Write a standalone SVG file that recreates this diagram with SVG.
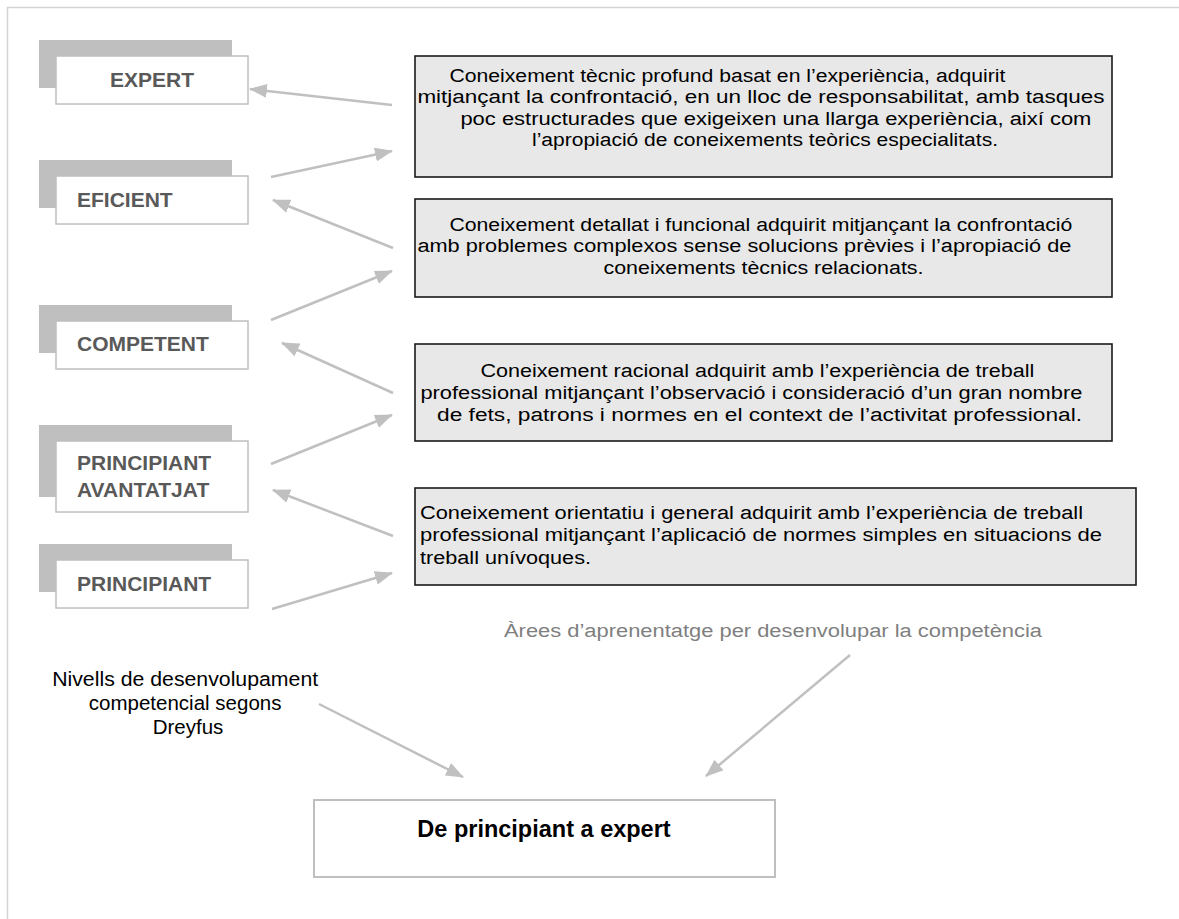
<svg xmlns="http://www.w3.org/2000/svg" width="1179" height="919" viewBox="0 0 1179 919">
  <style>
    .frame { fill: none; stroke: #d4d4d4; stroke-width: 1.5; }
    .shadow { fill: #bfbfbf; }
    .lvl { fill: #ffffff; stroke: #bfbfbf; stroke-width: 1.5; }
    .lvl-text { font-family: "Liberation Sans", Arial, sans-serif; font-weight: bold; font-size: 21px; fill: #595959; }
    .desc { fill: #e8e8e8; stroke: #1a1a1a; stroke-width: 1.6; }
    .desc-text { font-family: "Liberation Sans", Arial, sans-serif; font-size: 18.8px; fill: #000000; }
    .note { font-family: "Liberation Sans", Arial, sans-serif; font-size: 20.5px; fill: #000000; }
    .note-grey { font-family: "Liberation Sans", Arial, sans-serif; font-size: 18.8px; fill: #7f7f7f; }
    .goal { fill: #ffffff; stroke: #bfbfbf; stroke-width: 2; }
    .goal-text { font-family: "Liberation Sans", Arial, sans-serif; font-weight: bold; font-size: 23.5px; fill: #000000; }
    .conn { fill: none; stroke: #c0c0c0; stroke-width: 2.5; marker-end: url(#head); }
  </style>
  <defs>
    <marker id="head" markerUnits="userSpaceOnUse" markerWidth="18" markerHeight="14" viewBox="0 0 18 14" refX="17" refY="7" orient="auto">
      <path d="M0,0 L18,7 L0,14 Z" fill="#c0c0c0"/>
    </marker>
  </defs>

  <!-- page frame -->
  <path class="frame" d="M7.5,919 V7.5 H1179"/>

  <!-- competence levels (Dreyfus) -->
  <g id="level-expert">
    <rect class="shadow" x="39" y="40" width="193" height="48"/>
    <rect class="lvl" x="56" y="56" width="192" height="48"/>
    <text class="lvl-text" x="110" y="87">EXPERT</text>
  </g>
  <g id="level-eficient">
    <rect class="shadow" x="39" y="160" width="193" height="48"/>
    <rect class="lvl" x="56" y="176" width="192" height="48"/>
    <text class="lvl-text" x="77" y="207">EFICIENT</text>
  </g>
  <g id="level-competent">
    <rect class="shadow" x="39" y="305" width="193" height="48"/>
    <rect class="lvl" x="56" y="321" width="192" height="48"/>
    <text class="lvl-text" x="77" y="351">COMPETENT</text>
  </g>
  <g id="level-principiant-avantatjat">
    <rect class="shadow" x="39" y="425" width="193" height="72"/>
    <rect class="lvl" x="56" y="441" width="192" height="71"/>
    <text class="lvl-text" x="77" y="470">PRINCIPIANT</text>
    <text class="lvl-text" x="77" y="497">AVANTATJAT</text>
  </g>
  <g id="level-principiant">
    <rect class="shadow" x="39" y="544" width="193" height="48"/>
    <rect class="lvl" x="56" y="560" width="192" height="48"/>
    <text class="lvl-text" x="77" y="591">PRINCIPIANT</text>
  </g>

  <!-- learning areas -->
  <g id="area-expert">
    <rect class="desc" x="415" y="56" width="697" height="121"/>
    <text class="desc-text" text-anchor="middle">
      <tspan x="730" y="81.5" textLength="556" lengthAdjust="spacingAndGlyphs">Coneixement tècnic profund basat en l’experiència, adquirit</tspan>
      <tspan x="763.5" y="103" textLength="687" lengthAdjust="spacingAndGlyphs">mitjançant la confrontació, en un lloc de responsabilitat, amb tasques</tspan>
      <tspan x="778.5" y="124.5" textLength="631" lengthAdjust="spacingAndGlyphs">poc estructurades que exigeixen una llarga experiència, així com</tspan>
      <tspan x="765" y="146" textLength="466" lengthAdjust="spacingAndGlyphs">l’apropiació de coneixements teòrics especialitats.</tspan>
    </text>
  </g>
  <g id="area-eficient">
    <rect class="desc" x="415" y="199" width="697" height="98"/>
    <text class="desc-text" text-anchor="middle">
      <tspan x="763.5" y="230.5" textLength="623" lengthAdjust="spacingAndGlyphs">Coneixement detallat i funcional adquirit mitjançant la confrontació</tspan>
      <tspan x="747" y="252" textLength="654" lengthAdjust="spacingAndGlyphs">amb problemes complexos sense solucions prèvies i l’apropiació de</tspan>
      <tspan x="763.5" y="273.5" textLength="320" lengthAdjust="spacingAndGlyphs">coneixements tècnics relacionats.</tspan>
    </text>
  </g>
  <g id="area-competent">
    <rect class="desc" x="415" y="344" width="697" height="97"/>
    <text class="desc-text" text-anchor="middle">
      <tspan x="760" y="377" textLength="554" lengthAdjust="spacingAndGlyphs">Coneixement racional adquirit amb l’experiència de treball</tspan>
      <tspan x="754" y="399" textLength="662" lengthAdjust="spacingAndGlyphs">professional mitjançant l’observació i consideració d’un gran nombre</tspan>
      <tspan x="759.5" y="421" textLength="645" lengthAdjust="spacingAndGlyphs">de fets, patrons i normes en el context de l’activitat professional.</tspan>
    </text>
  </g>
  <g id="area-principiant">
    <rect class="desc" x="415" y="488" width="721" height="97"/>
    <text class="desc-text">
      <tspan x="420" y="518.5" textLength="663" lengthAdjust="spacingAndGlyphs">Coneixement orientatiu i general adquirit amb l’experiència de treball</tspan>
      <tspan x="420" y="541" textLength="682" lengthAdjust="spacingAndGlyphs">professional mitjançant l’aplicació de normes simples en situacions de</tspan>
      <tspan x="420" y="563.5" textLength="171" lengthAdjust="spacingAndGlyphs">treball unívoques.</tspan>
    </text>
  </g>

  <!-- captions -->
  <g id="caption-levels">
    <text class="note" text-anchor="middle">
      <tspan x="188" y="686" textLength="266" lengthAdjust="spacingAndGlyphs">Nivells de desenvolupament</tspan>
      <tspan x="188" y="710">competencial segons</tspan>
      <tspan x="188" y="734">Dreyfus</tspan>
    </text>
  </g>
  <g id="caption-areas">
    <text class="note-grey" x="504" y="637" textLength="538" lengthAdjust="spacingAndGlyphs">Àrees d’aprenentatge per desenvolupar la competència</text>
  </g>

  <!-- goal -->
  <g id="goal">
    <rect class="goal" x="314" y="800" width="461" height="77"/>
    <text class="goal-text" x="544" y="837" text-anchor="middle">De principiant a expert</text>
  </g>

  <!-- connectors -->
  <g id="connectors">
    <line class="conn" x1="392" y1="105" x2="250" y2="89"/>
    <line class="conn" x1="271" y1="177" x2="392" y2="151"/>
    <line class="conn" x1="393" y1="248" x2="273" y2="200"/>
    <line class="conn" x1="271" y1="320" x2="392" y2="271"/>
    <line class="conn" x1="393" y1="393" x2="282" y2="343"/>
    <line class="conn" x1="271" y1="464" x2="392" y2="415"/>
    <line class="conn" x1="393" y1="536" x2="273" y2="490"/>
    <line class="conn" x1="272" y1="609" x2="392" y2="573"/>
    <line class="conn" x1="319" y1="704" x2="463" y2="777"/>
    <line class="conn" x1="850" y1="655" x2="706" y2="776"/>
  </g>
</svg>
